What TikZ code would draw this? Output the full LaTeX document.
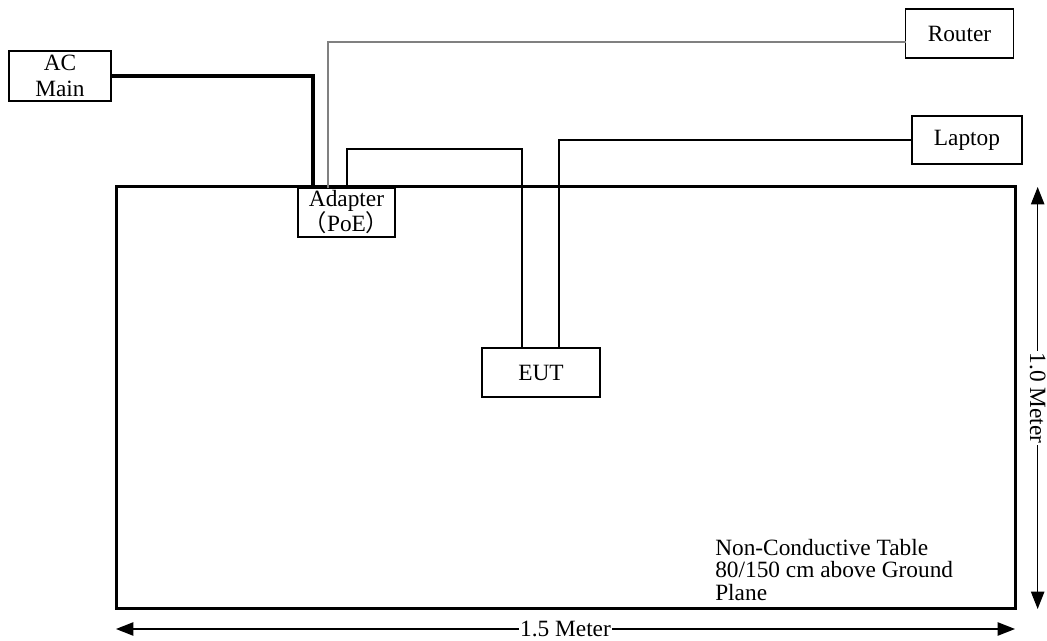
\documentclass[tikz,border=0pt]{standalone}
\usepackage{fontspec}
\setmainfont{Liberation Serif}
\newfontfamily\cjk{Noto Sans CJK SC}
\usetikzlibrary{arrows.meta,calc}

\begin{document}
\begin{tikzpicture}[x=0.75pt,y=-0.75pt,
   font=\fontsize{17.5}{17.5}\selectfont,
   box/.style={draw,line width=1pt,inner sep=0pt,outer sep=0pt,align=center},
   cable/.style={line width=0.8pt},
   dim/.style={line width=1pt,{Triangle[length=13pt,width=10pt]}-{Triangle[length=13pt,width=10pt]}}]
\useasboundingbox (0,0) rectangle (1047,641);
\node[draw,line width=2.25pt,outer sep=0pt,minimum width=674.25pt,minimum height=316.5pt](table) at (565.5,398){};
\node[box,minimum width=76.5pt,minimum height=37.5pt,font=\fontsize{17.5}{20}\selectfont](ac) at (60,76){AC\\Main};
\node[box,minimum width=72.75pt,minimum height=36.75pt,font=\fontsize{17.5}{18.75}\selectfont](adapter) at (346.5,212.5){Adapter\\{\cjk （}PoE{\cjk ）}};
\node[box,minimum width=81pt,minimum height=36.75pt](router) at (959.5,33.5){Router};
\node[box,minimum width=82.5pt,minimum height=36pt](laptop) at (967,140){Laptop};
\node[box,minimum width=88.5pt,minimum height=36.75pt](eut) at (541,372.5){EUT};
\node[anchor=base west,align=left,inner sep=0pt,font=\fontsize{17.5}{17.25}\selectfont](note) at (715,601){Non-Conductive Table\\80/150 cm above Ground\\Plane};

\draw[line width=2.4pt] (ac.east) -| ($(adapter.north west)+(15,0)$);
\draw[cable,gray] ($(adapter.north west)+(30,0)$) |- ($(router.south west)+(0,-16)$);
\draw[cable] ($(adapter.north west)+(49,0)$) -- ++(0,-39) -| ($(eut.north west)+(40,0)$);
\draw[cable] ($(eut.north west)+(77,0)$) |- (laptop.west);

\draw[dim] ([yshift=-15pt]table.south west) -- ([yshift=-15pt]table.south east) node[midway,fill=white,inner sep=1pt]{1.5 Meter};
\draw[dim] ([xshift=17pt]table.north east) -- ([xshift=17pt]table.south east) node[midway,fill=white,inner sep=1pt,rotate=-90]{1.0 Meter};
\end{tikzpicture}
\end{document}
